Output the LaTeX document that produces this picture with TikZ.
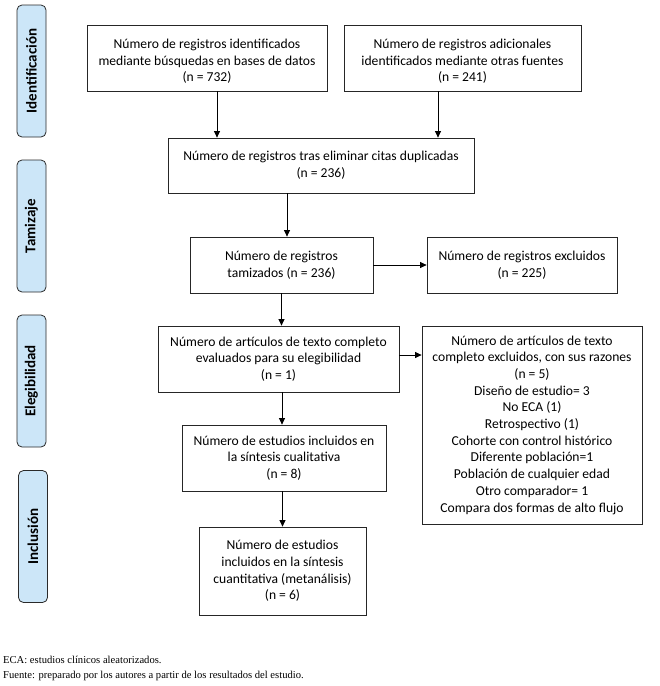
\documentclass[tikz,border=0pt]{standalone}
\usepackage{fontspec}
\setmainfont{Carlito}
\newfontfamily\notefont{Liberation Serif}
\usetikzlibrary{arrows.meta}
\definecolor{sidefill}{HTML}{CCE6F8}
\definecolor{sidedraw}{HTML}{2A2A2A}
\begin{document}
\begin{tikzpicture}[x=1pt,y=-1pt,
  box/.style={draw=black!85, line width=0.8pt, align=center, inner sep=2pt,
    font=\fontsize{13.6}{16.7}\selectfont},
  side/.style={draw=sidedraw, fill=sidefill, line width=0.8pt, rounded corners=5pt,
    minimum width=132pt, minimum height=29pt, rotate=90,
    font=\fontsize{15}{17}\selectfont\bfseries, inner sep=0pt},
  arr/.style={line width=0.8pt, -{Triangle[length=6.5pt,width=6pt]}},
  note/.style={anchor=west, font=\notefont\fontsize{10.6}{12}\selectfont, inner sep=0pt}]
\useasboundingbox (0,0) rectangle (660,686);
\fill[white] (0,0) rectangle (660,686);
% side labels
\node[side] (s1) at (31.5,71) {Identificación};
\node[side] (s2) at (31.5,226) {Tamizaje};
\node[side] (s3) at (31.5,381) {Elegibilidad};
\node[side] (s4) at (33,536.5) {Inclusión};
% boxes
\node[box, minimum width=240pt, minimum height=66pt] (A) at (207,58)
  {\rule{0pt}{16pt}Número de registros identificados\\mediante búsquedas en bases de datos\\(n = 732)};
\node[box, minimum width=237pt, minimum height=66pt] (B) at (462.5,58)
  {\rule{0pt}{16pt}Número de registros adicionales\\identificados mediante otras fuentes\\(n = 241)};
\node[box, minimum width=306pt, minimum height=55pt] (C) at (321,165.5)
  {Número de registros tras eliminar citas duplicadas\\(n = 236)};
\node[box, minimum width=183pt, minimum height=56pt] (D) at (281.5,265)
  {Número de registros\\tamizados (n = 236)};
\node[box, minimum width=190pt, minimum height=56pt] (E) at (522,265)
  {Número de registros excluidos\\(n = 225)};
\node[box, minimum width=241pt, minimum height=66pt] (F) at (278.5,359)
  {Número de artículos de texto completo\\evaluados para su elegibilidad\\(n = 1)};
\node[box, minimum width=220pt, minimum height=198pt] (G) at (532,425)
  {Número de artículos de texto\\completo excluidos, con sus razones\\(n = 5)\\Diseño de estudio= 3\\No ECA (1)\\Retrospectivo (1)\\Cohorte con control histórico\\Diferente población=1\\Población de cualquier edad\\Otro comparador= 1\\Compara dos formas de alto flujo};
\node[box, minimum width=204pt, minimum height=66pt] (H) at (284,458)
  {Número de estudios incluidos en\\la síntesis cualitativa\\(n = 8)};
\node[box, minimum width=167pt, minimum height=88pt] (I) at (282.5,571)
  {Número de estudios\\incluidos en la síntesis\\cuantitativa (metanálisis)\\(n = 6)};
% arrows
\draw[arr] ([xshift=10pt]A.south) -- ([xshift=10pt]A.south |- C.north);
\draw[arr] ([xshift=-24.5pt]B.south) -- ([xshift=-24.5pt]B.south |- C.north);
\draw[arr] ([xshift=5.5pt]D.north |- C.south) -- ([xshift=5.5pt]D.north);
\draw[arr] (D.east) -- (E.west);
\draw[arr] (D.south) -- (D.south |- F.north);
\draw[arr] ([yshift=4pt]F.east) -- ([yshift=4pt]F.east -| G.west);
\draw[arr] ([xshift=3.5pt]F.south) -- ([xshift=3.5pt]F.south |- H.north);
\draw[arr] (I.north |- H.south) -- (I.north);
% notes
\node[note] (n1) at (3,660) {ECA: estudios clínicos aleatorizados.};
\node[note] (n2) at (3,675.5) {Fuente: preparado por los autores a partir de los resultados del estudio.};
\end{tikzpicture}
\end{document}
